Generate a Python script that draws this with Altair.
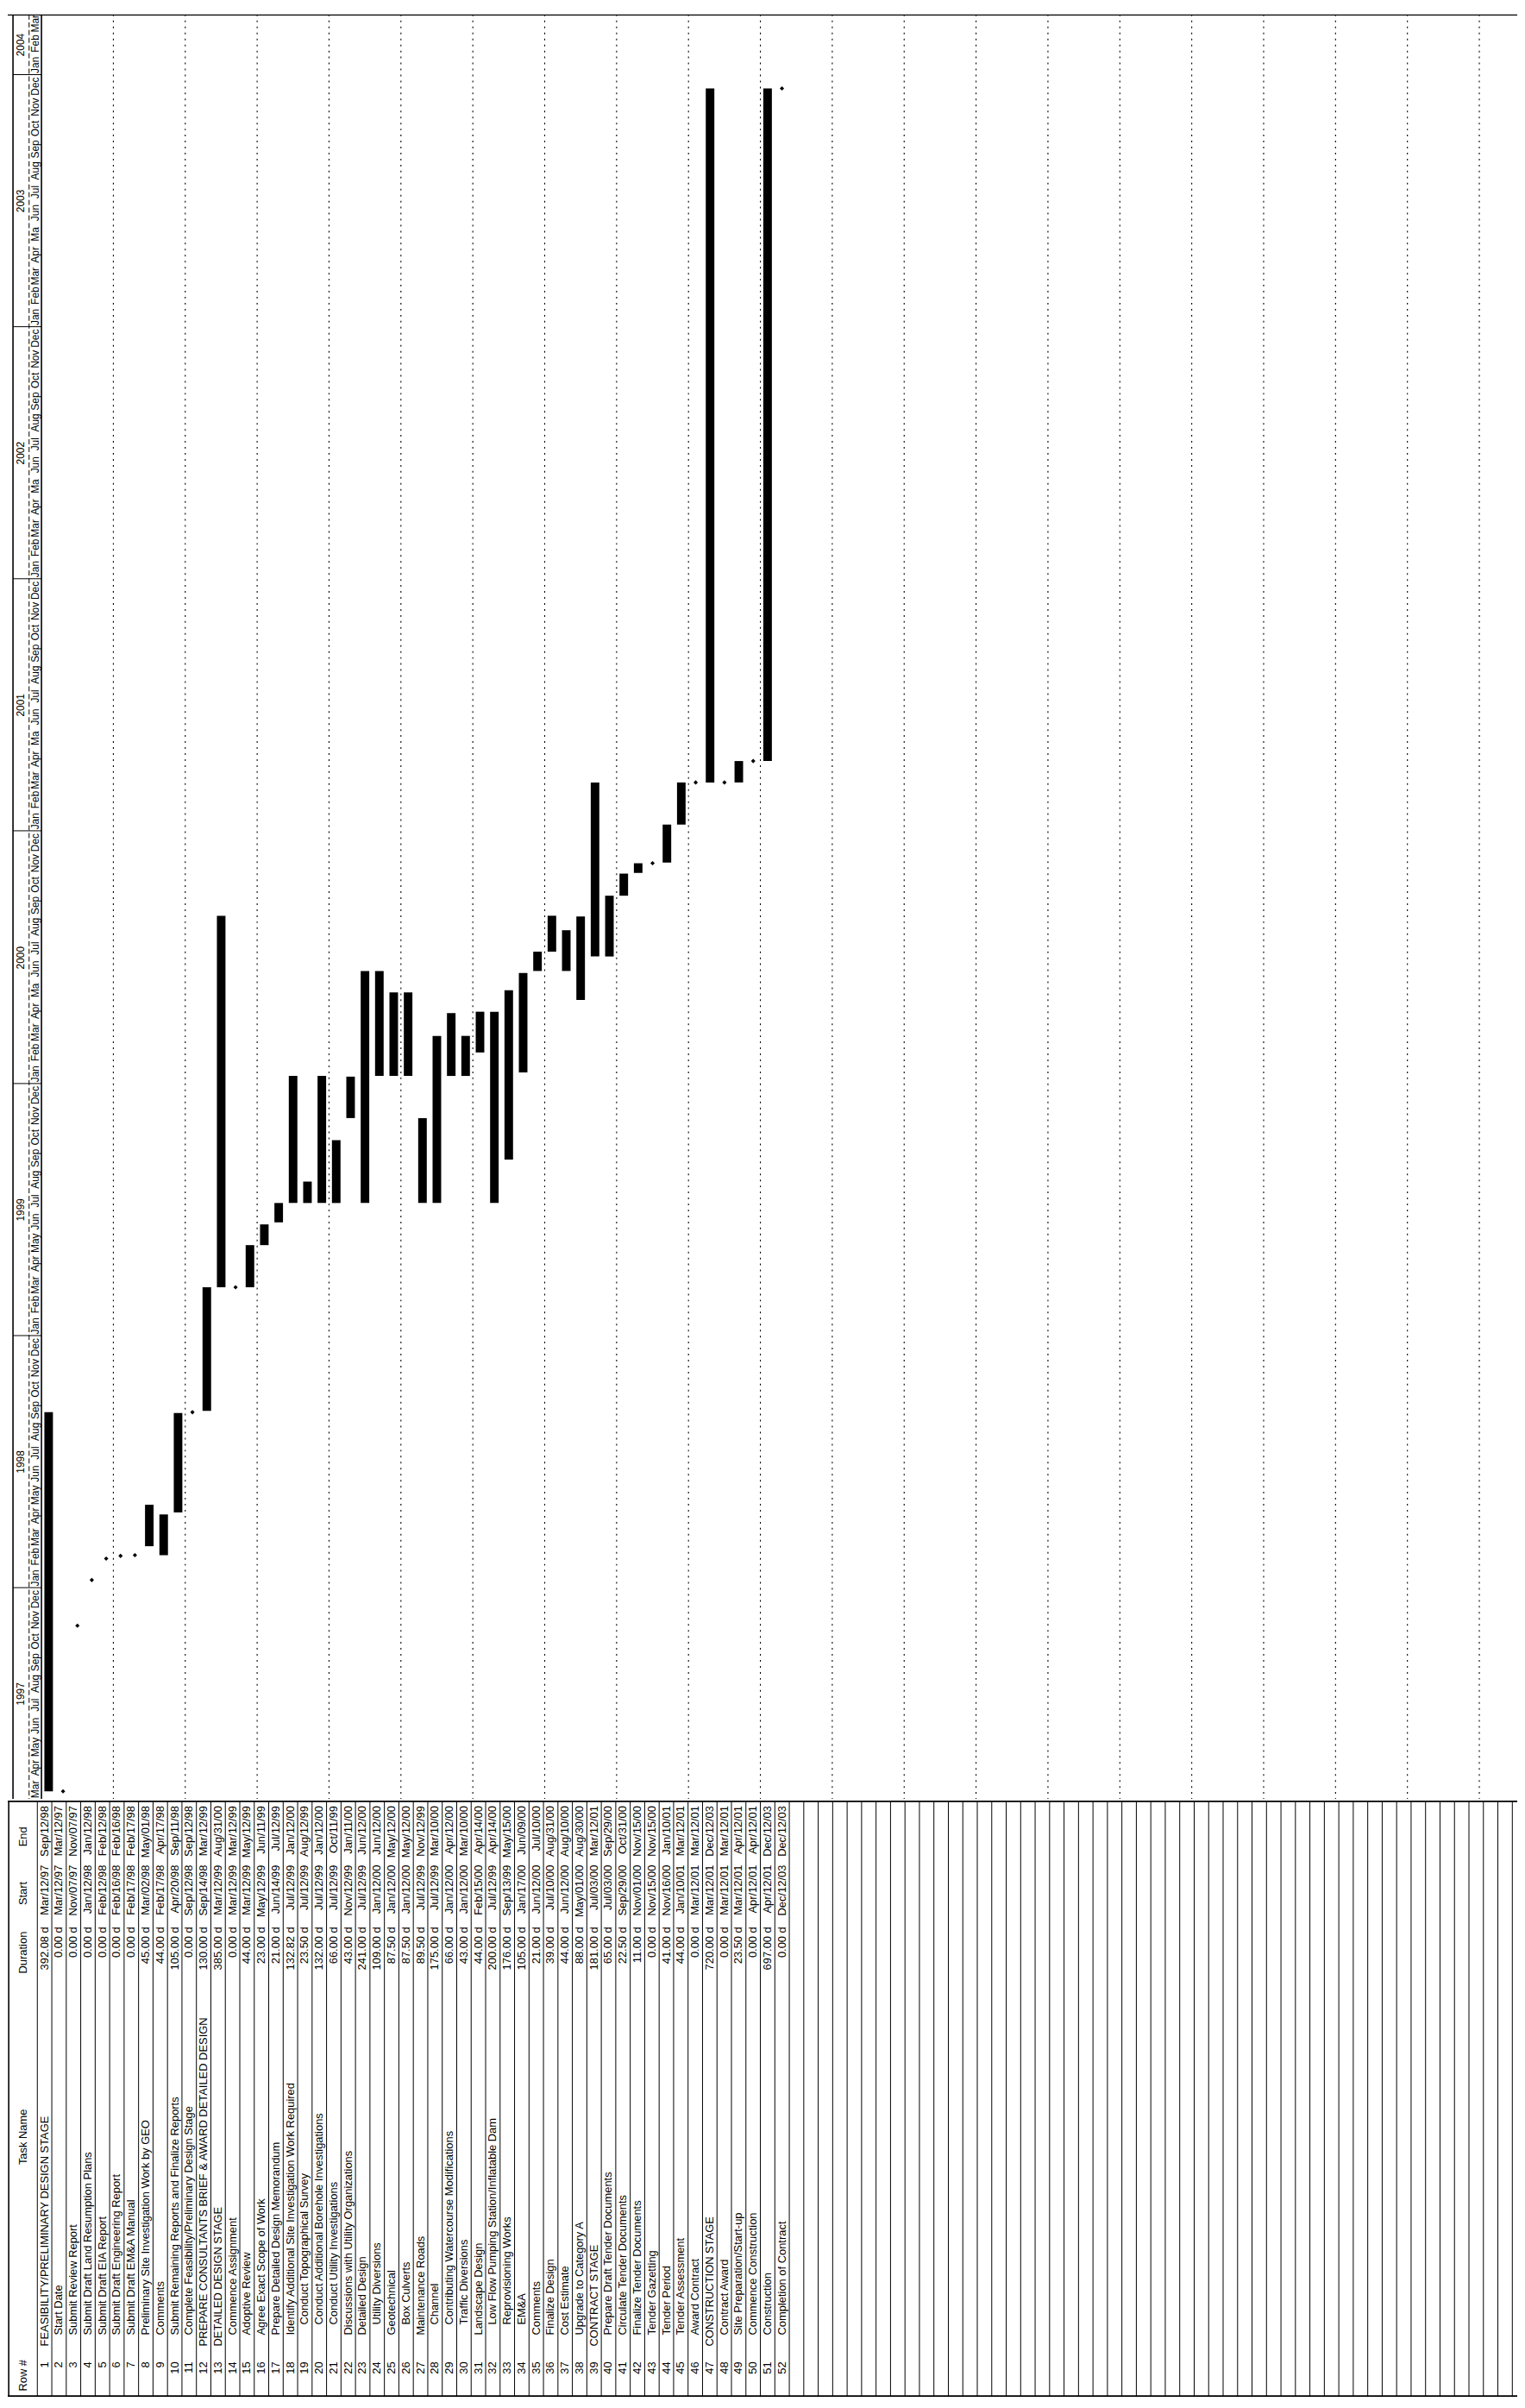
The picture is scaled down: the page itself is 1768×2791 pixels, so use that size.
import altair as alt
import pandas as pd
from datetime import date, timedelta

# ---------------- data ----------------
row_ids = list(range(1, 53))
task_names = [
    "FEASIBILITY/PRELIMINARY DESIGN STAGE",
    "Start Date",
    "Submit Review Report",
    "Submit Draft Land Resumption Plans",
    "Submit Draft EIA Report",
    "Submit Draft Engineering Report",
    "Submit Draft EM&A Manual",
    "Preliminary Site Investigation Work by GEO",
    "Comments",
    "Submit Remaining Reports and Finalize Reports",
    "Complete Feasibility/Preliminary Design Stage",
    "PREPARE CONSULTANTS BRIEF & AWARD DETAILED DESIGN",
    "DETAILED DESIGN STAGE",
    "Commence Assignment",
    "Adoptive Review",
    "Agree Exact Scope of Work",
    "Prepare Detailed Design Memorandum",
    "Identify Additional Site Investigation Work Required",
    "Conduct Topographical Survey",
    "Conduct Additional Borehole Investigations",
    "Conduct Utility Investigations",
    "Discussions with Utility Organizations",
    "Detailed Design",
    "Utility Diversions",
    "Geotechnical",
    "Box Culverts",
    "Maintenance Roads",
    "Channel",
    "Contributing Watercourse Modifications",
    "Traffic Diversions",
    "Landscape Design",
    "Low Flow Pumping Station/Inflatable Dam",
    "Reprovisioning Works",
    "EM&A",
    "Comments",
    "Finalize Design",
    "Cost Estimate",
    "Upgrade to Category A",
    "CONTRACT STAGE",
    "Prepare Draft Tender Documents",
    "Circulate Tender Documents",
    "Finalize Tender Documents",
    "Tender Gazetting",
    "Tender Period",
    "Tender Assessment",
    "Award Contract",
    "CONSTRUCTION STAGE",
    "Contract Award",
    "Site Preparation/Start-up",
    "Commence Construction",
    "Construction",
    "Completion of Contract",
]
durations = [392.08, 0, 0, 0, 0, 0, 0, 45, 44, 105, 0, 130, 385, 0, 44, 23, 21,
             132.82, 23.5, 132, 66, 43, 241, 109, 87.5, 87.5, 89.5, 175, 66, 43,
             44, 200, 176, 105, 21, 39, 44, 88, 181, 65, 22.5, 11, 0, 41, 44, 0,
             720, 0, 23.5, 0, 697, 0]
starts = ["1997-03-12", "1997-03-12", "1997-11-07", "1998-01-12", "1998-02-12",
          "1998-02-16", "1998-02-17", "1998-03-02", "1998-02-17", "1998-04-20",
          "1998-09-12", "1998-09-14", "1999-03-12", "1999-03-12", "1999-03-12",
          "1999-05-12", "1999-06-14", "1999-07-12", "1999-07-12", "1999-07-12",
          "1999-07-12", "1999-11-12", "1999-07-12", "2000-01-12", "2000-01-12",
          "2000-01-12", "1999-07-12", "1999-07-12", "2000-01-12", "2000-01-12",
          "2000-02-15", "1999-07-12", "1999-09-13", "2000-01-17", "2000-06-12",
          "2000-07-10", "2000-06-12", "2000-05-01", "2000-07-03", "2000-07-03",
          "2000-09-29", "2000-11-01", "2000-11-15", "2000-11-16", "2001-01-10",
          "2001-03-12", "2001-03-12", "2001-03-12", "2001-03-12", "2001-04-12",
          "2001-04-12", "2003-12-12"]
ends = ["1998-09-12", "1997-03-12", "1997-11-07", "1998-01-12", "1998-02-12",
        "1998-02-16", "1998-02-17", "1998-05-01", "1998-04-17", "1998-09-11",
        "1998-09-12", "1999-03-12", "2000-08-31", "1999-03-12", "1999-05-12",
        "1999-06-11", "1999-07-12", "2000-01-12", "1999-08-12", "2000-01-12",
        "1999-10-11", "2000-01-11", "2000-06-12", "2000-06-12", "2000-05-12",
        "2000-05-12", "1999-11-12", "2000-03-10", "2000-04-12", "2000-03-10",
        "2000-04-14", "2000-04-14", "2000-05-15", "2000-06-09", "2000-07-10",
        "2000-08-31", "2000-08-10", "2000-08-30", "2001-03-12", "2000-09-29",
        "2000-10-31", "2000-11-15", "2000-11-15", "2001-01-10", "2001-03-12",
        "2001-03-12", "2003-12-12", "2001-03-12", "2001-04-12", "2001-04-12",
        "2003-12-12", "2003-12-12"]
summary_rows = [1, 12, 13, 39, 47]
deep_rows = [19, 20, 21, 24, 26, 28, 29, 30, 32, 33, 34]
header_names = ["End", "Start", "Duration", "Task Name", "Row #"]
month_abbr = ["Jan", "Feb", "Mar", "Apr", "May", "Jun",
              "Jul", "Aug", "Sep", "Oct", "Nov", "Dec"]

# ---------------- layout ----------------
W = 1760
H_TOP = 2080
H_TAB = 695
N_GRID_ROWS = 102
X_DOMAIN = [-2.046, 102.34]          # row units (row boundary k)
T0 = date(1997, 3, 1)
T1 = date(2004, 3, 28)
FONT = "Liberation Sans"
FS = 13
U_YEAR = -1.45
U_MONTH = -0.42
U_HEAD = -1.0
U_LEFT = -1.98
U_SEP = -0.86
# table column anchors (pixels from the table top)
Y_END, Y_START, Y_DUR, Y_ROWNUM = 6, 75, 147, 654
Y_TASK = {0: 636, 1: 623, 2: 611}
Y_HEAD = {"End": 42, "Start": 108, "Duration": 177, "Task Name": 392, "Row #": 670}

xs = alt.Scale(domain=X_DOMAIN, nice=False, zero=False)
ys_time = alt.Scale(type="utc", nice=False,
                    domain=[alt.DateTime(year=T0.year, month=T0.month, date=T0.day, utc=True),
                            alt.DateTime(year=T1.year, month=T1.month, date=T1.day, utc=True)])
ys_tab = alt.Scale(domain=[0, H_TAB], reverse=True, nice=False, zero=False)


def lab(s):
    d = date.fromisoformat(s)
    return f"{month_abbr[d.month - 1]}/{d.day:02d}/{d.year % 100:02d}"


level = [0 if r in summary_rows else (2 if r in deep_rows else 1) for r in row_ids]
tasks = pd.DataFrame({
    "row": row_ids,
    "uc": [r - 0.5 for r in row_ids],
    "task": task_names,
    "dur": durations,
    "start": starts,
    "end": ends,
    "dur_label": [f"{d:.2f} d" for d in durations],
    "start_label": [lab(s) for s in starts],
    "end_label": [lab(e) for e in ends],
    "y_task": [Y_TASK[l] for l in level],
    "y_row": Y_ROWNUM, "y_dur": Y_DUR, "y_start": Y_START, "y_end": Y_END,
})
bars_df = tasks[tasks["dur"] > 0]
miles_df = tasks[tasks["dur"] == 0]

# timescale labels
months = []
y, m = T0.year, T0.month
while (y, m) <= (T1.year, T1.month):
    txt = month_abbr[m - 1]
    if m == 5 and 2000 <= y <= 2003:
        txt = "Ma"
    months.append({"label": txt, "mid": date(y, m, 15).isoformat(), "u": U_MONTH})
    m += 1
    if m > 12:
        m, y = 1, y + 1
months_df = pd.DataFrame(months)

years = []
for yr in range(T0.year, T1.year + 1):
    a = max(date(yr, 1, 1), T0)
    b = min(date(yr, 12, 31), T1)
    mid = a + timedelta(days=(b - a).days // 2)
    years.append({"label": str(yr), "mid": mid.isoformat(), "u": U_YEAR})
years_df = pd.DataFrame(years)
yearsep_df = pd.DataFrame({"d": [date(yr, 1, 1).isoformat() for yr in range(T0.year + 1, T1.year + 1)],
                           "u1": U_LEFT, "u2": 0.0})

grid_df = pd.DataFrame({"u": list(range(5, N_GRID_ROWS, 5))})
rowsep_df = pd.DataFrame({"u": list(range(0, N_GRID_ROWS + 1))})
head_df = pd.DataFrame({"name": header_names, "y": [Y_HEAD[h] for h in header_names], "u": U_HEAD})

X = lambda f: alt.X(f, scale=xs, axis=None)

# ---------------- top: timescale + gantt ----------------
grid = alt.Chart(grid_df).mark_rule(color="black", strokeWidth=1.1, strokeDash=[2, 5]).encode(x=X("u:Q"))
hdr_lines = alt.Chart(pd.DataFrame({"u": [U_LEFT, 0.0]})).mark_rule(color="black", strokeWidth=1.6).encode(x=X("u:Q"))
hdr_mid = alt.Chart(pd.DataFrame({"u": [U_SEP]})).mark_rule(color="black", strokeWidth=1, strokeDash=[6, 3]).encode(x=X("u:Q"))
top_border = alt.Chart(pd.DataFrame({"u": [0]})).mark_rule(color="black", strokeWidth=1.5).encode(y=alt.value(0.5))
year_sep = alt.Chart(yearsep_df).mark_rule(color="black", strokeWidth=1).encode(
    x=X("u1:Q"), x2="u2:Q", y=alt.Y("d:T", scale=ys_time, axis=None))
month_txt = alt.Chart(months_df).mark_text(angle=270, align="center", baseline="middle",
                                           font=FONT, fontSize=12, color="black").encode(
    x=X("u:Q"), y=alt.Y("mid:T", scale=ys_time, axis=None), text="label:N")
year_txt = alt.Chart(years_df).mark_text(angle=270, align="center", baseline="middle",
                                         font=FONT, fontSize=12, color="black").encode(
    x=X("u:Q"), y=alt.Y("mid:T", scale=ys_time, axis=None), text="label:N")
bars = alt.Chart(bars_df).mark_bar(color="black", size=10).encode(
    x=X("uc:Q"), y=alt.Y("start:T", scale=ys_time, axis=None), y2="end:T")
miles = alt.Chart(miles_df).mark_point(shape="diamond", filled=True, size=26, color="black", opacity=1).encode(
    x=X("uc:Q"), y=alt.Y("start:T", scale=ys_time, axis=None))

top = alt.layer(grid, hdr_lines, hdr_mid, top_border, year_sep, month_txt, year_txt, bars, miles).properties(
    width=W, height=H_TOP)

# ---------------- bottom: task table ----------------
Yt = lambda f: alt.Y(f, scale=ys_tab, axis=None)
row_sep = alt.Chart(rowsep_df).mark_rule(color="black", strokeWidth=1).encode(x=X("u:Q"))
left_border = alt.Chart(pd.DataFrame({"u": [U_LEFT]})).mark_rule(color="black", strokeWidth=1.6).encode(x=X("u:Q"))
hborders = alt.Chart(pd.DataFrame({"y": [0.8, H_TAB - 1]})).mark_rule(color="black", strokeWidth=1.6).encode(y=Yt("y:Q"))

txt = dict(angle=270, baseline="middle", font=FONT, fontSize=FS, color="black")
t_row = alt.Chart(tasks).mark_text(align="right", **txt).encode(x=X("uc:Q"), y=Yt("y_row:Q"), text="row:N")
t_task = alt.Chart(tasks).mark_text(align="left", **txt).encode(x=X("uc:Q"), y=Yt("y_task:Q"), text="task:N")
t_dur = alt.Chart(tasks).mark_text(align="right", **txt).encode(x=X("uc:Q"), y=Yt("y_dur:Q"), text="dur_label:N")
t_start = alt.Chart(tasks).mark_text(align="right", **txt).encode(x=X("uc:Q"), y=Yt("y_start:Q"), text="start_label:N")
t_end = alt.Chart(tasks).mark_text(align="right", **txt).encode(x=X("uc:Q"), y=Yt("y_end:Q"), text="end_label:N")
t_head = alt.Chart(head_df).mark_text(align="center", **txt).encode(x=X("u:Q"), y=Yt("y:Q"), text="name:N")

table = alt.layer(row_sep, left_border, hborders, t_row, t_task, t_dur, t_start, t_end, t_head).properties(
    width=W, height=H_TAB)

chart = (alt.vconcat(top, table, spacing=0)
         .resolve_scale(x="independent", y="independent")
         .properties(padding=0, background="white")
         .configure_view(strokeWidth=0))

chart.save("out.html", embed_options={"renderer": "svg", "actions": False})
